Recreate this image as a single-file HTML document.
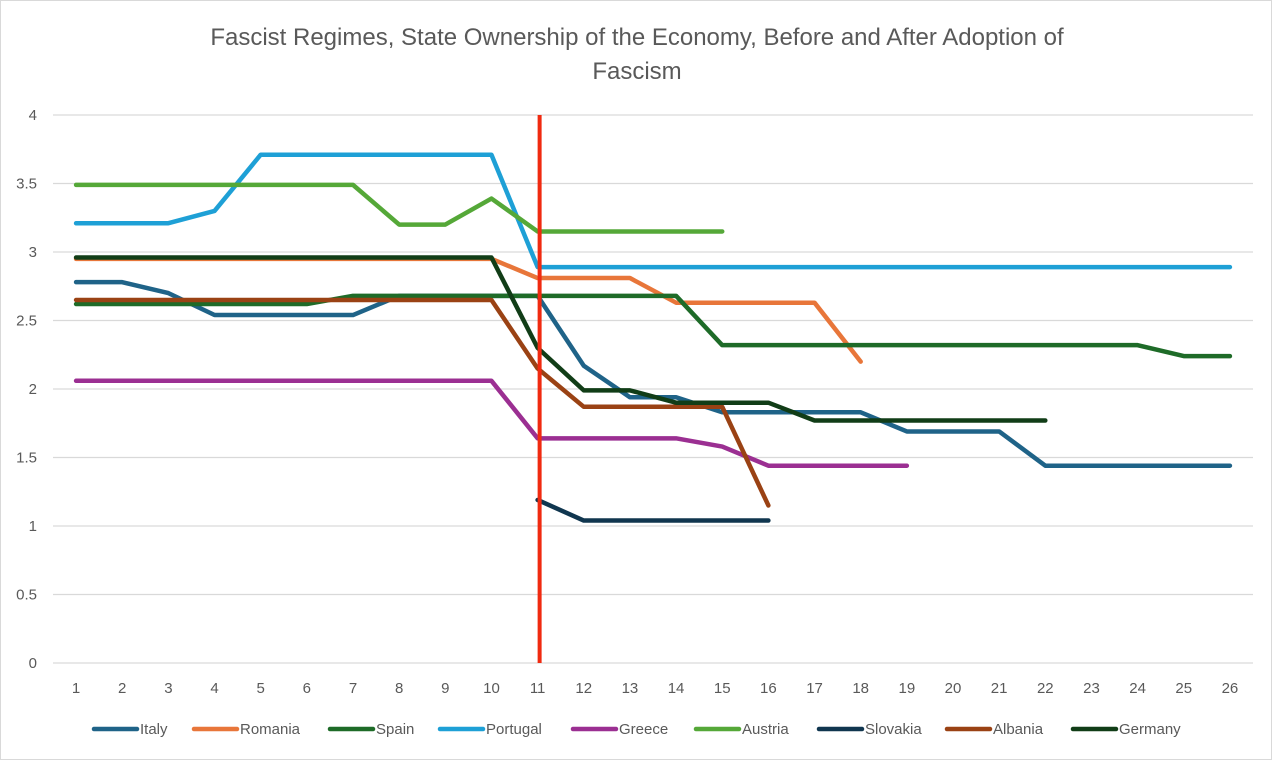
<!DOCTYPE html>
<html><head><meta charset="utf-8"><style>
body{margin:0;background:#fff;}
svg{display:block;font-family:"Liberation Sans",sans-serif;}
</style></head><body>
<svg id="chart" width="1272" height="760">
<rect x="0.5" y="0.5" width="1271" height="759" fill="#fff" stroke="#d9d9d9"/>
<text x="637" y="45" text-anchor="middle" font-size="24" fill="#595959">Fascist Regimes, State Ownership of the Economy, Before and After Adoption of</text>
<text x="637" y="79" text-anchor="middle" font-size="24" fill="#595959">Fascism</text>
<g id="grid"></g><g id="series"></g><g id="legend"></g>
</svg>
<script>
const categories = [1,2,3,4,5,6,7,8,9,10,11,12,13,14,15,16,17,18,19,20,21,22,23,24,25,26];
const yTicks = [0,0.5,1,1.5,2,2.5,3,3.5,4];
const seriesNames = ["Italy","Romania","Spain","Portugal","Greece","Austria","Slovakia","Albania","Germany"];
const seriesColors = ["#1f6388","#e8763a","#1e6b28","#1ea0d6","#9b2f92","#55a838","#10364f","#9a4214","#113d17"];
const italy = [2.78,2.78,2.70,2.54,2.54,2.54,2.54,2.68,2.68,2.68,2.68,2.17,1.94,1.94,1.83,1.83,1.83,1.83,1.69,1.69,1.69,1.44,1.44,1.44,1.44,1.44];
const romania = [2.95,2.95,2.95,2.95,2.95,2.95,2.95,2.95,2.95,2.95,2.81,2.81,2.81,2.63,2.63,2.63,2.63,2.20];
const spain = [2.62,2.62,2.62,2.62,2.62,2.62,2.68,2.68,2.68,2.68,2.68,2.68,2.68,2.68,2.32,2.32,2.32,2.32,2.32,2.32,2.32,2.32,2.32,2.32,2.24,2.24];
const portugal = [3.21,3.21,3.21,3.30,3.71,3.71,3.71,3.71,3.71,3.71,2.89,2.89,2.89,2.89,2.89,2.89,2.89,2.89,2.89,2.89,2.89,2.89,2.89,2.89,2.89,2.89];
const greece = [2.06,2.06,2.06,2.06,2.06,2.06,2.06,2.06,2.06,2.06,1.64,1.64,1.64,1.64,1.58,1.44,1.44,1.44,1.44];
const austria = [3.49,3.49,3.49,3.49,3.49,3.49,3.49,3.20,3.20,3.39,3.15,3.15,3.15,3.15,3.15];
const slovakia = [null,null,null,null,null,null,null,null,null,null,1.19,1.04,1.04,1.04,1.04,1.04];
const albania = [2.65,2.65,2.65,2.65,2.65,2.65,2.65,2.65,2.65,2.65,2.15,1.87,1.87,1.87,1.87,1.15];
const germany = [2.96,2.96,2.96,2.96,2.96,2.96,2.96,2.96,2.96,2.96,2.30,1.99,1.99,1.90,1.90,1.90,1.77,1.77,1.77,1.77,1.77,1.77];
const allSeries = [italy,romania,spain,portugal,greece,austria,slovakia,albania,germany];
const adoptionPoint = 11;

const NS="http://www.w3.org/2000/svg";
const gL=53, gR=1253, xStep=(gR-gL)/26, y0=663, yUnit=137;
const xScale = c => gL + (c-0.5)*xStep;
const yScale = v => y0 - v*yUnit;
function mk(tag, attrs, parent){const e=document.createElementNS(NS,tag);for(const k in attrs)e.setAttribute(k,attrs[k]);parent.appendChild(e);return e;}
const grid=document.getElementById('grid'), ser=document.getElementById('series'), leg=document.getElementById('legend');
yTicks.forEach(t=>{
  const l=mk('line',{x1:gL,x2:gR,y1:yScale(t),y2:yScale(t),stroke:'#d9d9d9','stroke-width':1.3},grid);
  
  
  const tx=mk('text',{x:37,y:yScale(t)+5,'text-anchor':'end','font-size':15,fill:'#595959'},grid);
  tx.textContent=t;
  
  
});
categories.forEach(c=>{
  const tx=mk('text',{x:xScale(c),y:693,'text-anchor':'middle','font-size':15,fill:'#595959'},grid);
  tx.textContent=c;
  
  
});
allSeries.forEach((s,i)=>{
  let d='';let pen=false;
  s.forEach((v,j)=>{ if(v===null){pen=false;return;} d+=(pen?'L':'M')+xScale(categories[j])+' '+yScale(v)+' '; pen=true;});
  const p=mk('path',{d:d,fill:'none',stroke:seriesColors[i],'stroke-width':4.5,'stroke-linejoin':'round','stroke-linecap':'round'},ser);
  
  
});
const rx=xScale(adoptionPoint)+2;
const rl=mk('line',{x1:rx,x2:rx,y1:yScale(4),y2:yScale(0),stroke:'#f02a10','stroke-width':4},ser);


const legX=[94,194,330,440,573,696,819,947,1073];
seriesNames.forEach((n,i)=>{
  const g=mk('g',{},leg);
  
  
  mk('line',{x1:legX[i],x2:legX[i]+43,y1:729,y2:729,stroke:seriesColors[i],'stroke-width':4.5,'stroke-linecap':'round'},g);
  const t=mk('text',{x:legX[i]+46,y:734,'font-size':15,fill:'#595959'},g);
  t.textContent=n;
});
</script>
</body></html>
